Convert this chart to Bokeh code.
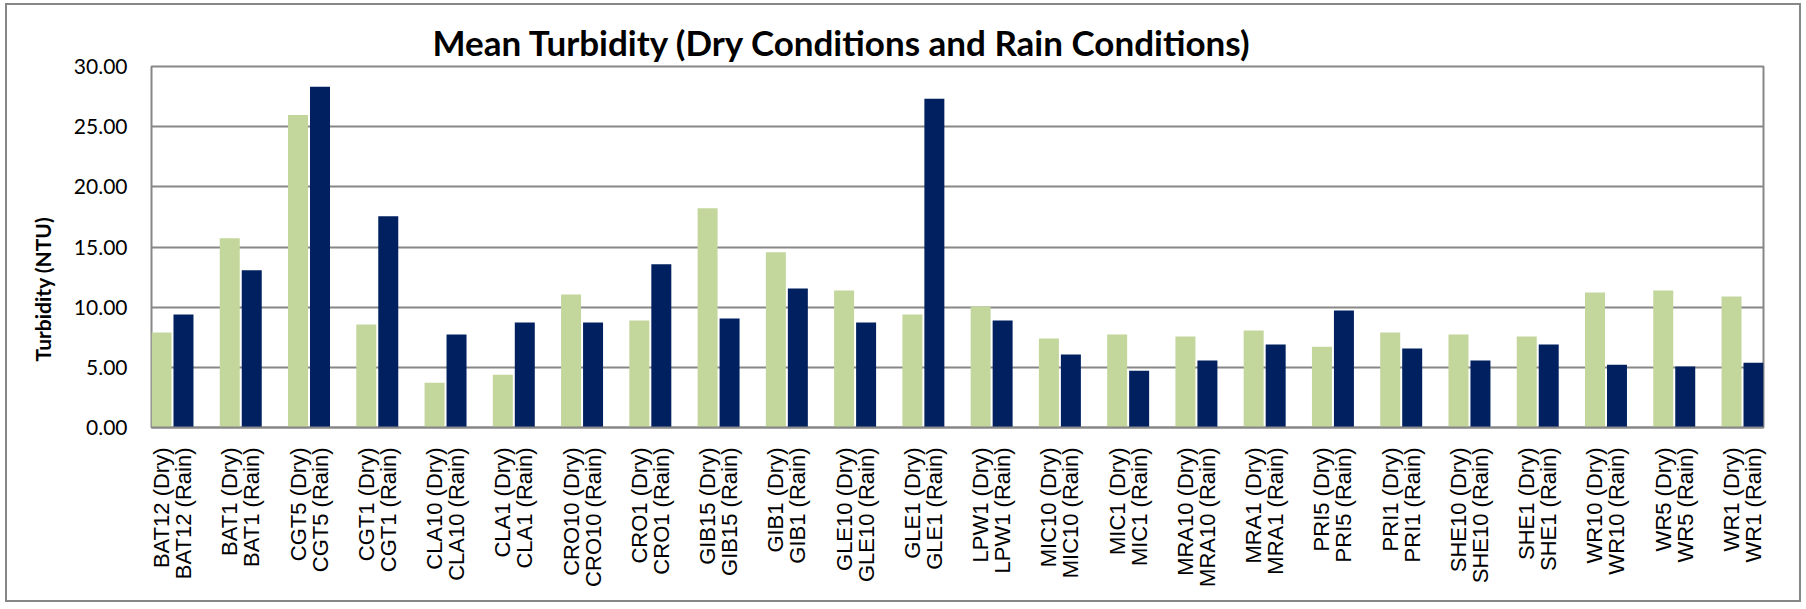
import math
from bokeh.plotting import figure
from bokeh.models import FactorRange, Range1d, NumeralTickFormatter, FixedTicker, ColumnDataSource, Title
from bokeh.embed import file_html
from bokeh.resources import INLINE

sites = ["BAT12", "BAT1", "CGT5", "CGT1", "CLA10", "CLA1", "CRO10", "CRO1",
         "GIB15", "GIB1", "GLE10", "GLE1", "LPW1", "MIC10", "MIC1", "MRA10",
         "MRA1", "PRI5", "PRI1", "SHE10", "SHE1", "WR10", "WR5", "WR1"]

dry_labels = [s + " (Dry)" for s in sites]
rain_labels = [s + " (Rain)" for s in sites]

dry = [7.89, 15.72, 25.97, 8.56, 3.72, 4.39, 11.06, 8.89, 18.22, 14.56, 11.39, 9.39,
       10.06, 7.39, 7.72, 7.56, 8.06, 6.72, 7.89, 7.72, 7.56, 11.22, 11.39, 10.89]

rain = [9.39, 13.06, 28.31, 17.56, 7.72, 8.72, 8.72, 13.56, 9.06, 11.56, 8.72, 27.31,
        8.89, 6.06, 4.72, 5.56, 6.89, 9.72, 6.56, 5.56, 6.89, 5.22, 5.06, 5.39]

y_ticks = [0, 5, 10, 15, 20, 25, 30]

factors = []
for s, dl, rl in zip(sites, dry_labels, rain_labels):
    factors.append((s, dl))
    factors.append((s, rl))

x_range = FactorRange(factors=factors, factor_padding=0.1, group_padding=1.315, range_padding=0)

p = figure(x_range=x_range, y_range=Range1d(0, 30),
           frame_width=1612, frame_height=361,
           min_border_left=144, min_border_right=36, min_border_top=61, min_border_bottom=173,
           output_backend="svg", toolbar_location=None,
           title="Mean Turbidity (Dry Conditions and Rain Conditions)")
p.styles = {"border": "2px solid #878787", "margin": "3px 0px 0px 5px"}
p.background_fill_color = "white"
p.border_fill_color = "white"
p.outline_line_color = "#878787"
p.outline_line_width = 2

dry_src = ColumnDataSource(dict(x=[(s, l) for s, l in zip(sites, dry_labels)], top=dry))
rain_src = ColumnDataSource(dict(x=[(s, l) for s, l in zip(sites, rain_labels)], top=rain))

p.vbar(x="x", top="top", width=1.0, source=dry_src, fill_color="#C3D69B", line_color=None)
p.vbar(x="x", top="top", width=1.0, source=rain_src, fill_color="#002060", line_color=None)

# title
p.title.text_font = "Lato"
p.title.text_font_style = "bold"
p.title.text_font_size = "35px"
p.title.text_color = "black"
p.title.align = "left"
p.title.offset = 281
p.title.standoff = 7

# y-axis title (side title, anchored a little above the frame bottom)
ytitle = Title(text="Turbidity (NTU)", align="left", offset=66, standoff=32,
               text_font="Lato", text_font_style="bold", text_font_size="21px",
               text_color="black")
p.add_layout(ytitle, "left")

# grid
p.xgrid.grid_line_color = None
p.ygrid.grid_line_color = "#878787"
p.ygrid.grid_line_width = 2

# y axis
p.yaxis.ticker = FixedTicker(ticks=y_ticks)
p.yaxis.formatter = NumeralTickFormatter(format="0.00")
p.yaxis.axis_line_color = None
p.yaxis.major_tick_line_color = None
p.yaxis.minor_tick_line_color = None
p.yaxis.major_tick_out = 0
p.yaxis.major_tick_in = 0
p.yaxis.major_label_standoff = 24
p.yaxis.major_label_text_font = "Lato"
p.yaxis.major_label_text_font_size = "21px"
p.yaxis.major_label_text_color = "black"

# x axis
p.xaxis.axis_line_color = "#878787"
p.xaxis.axis_line_width = 2
p.xaxis.major_tick_line_color = None
p.xaxis.major_tick_out = 0
p.xaxis.major_tick_in = 0
p.xaxis.major_label_orientation = math.pi / 2
p.xaxis.major_label_standoff = 20
p.xaxis.major_label_text_font = "Liberation Sans"
p.xaxis.major_label_text_font_size = "22px"
p.xaxis.major_label_text_color = "black"
p.xaxis.group_text_font_size = "0px"
p.xaxis.group_text_color = None
p.xaxis.separator_line_color = None

open("out.html", "w").write(file_html(p, INLINE))
